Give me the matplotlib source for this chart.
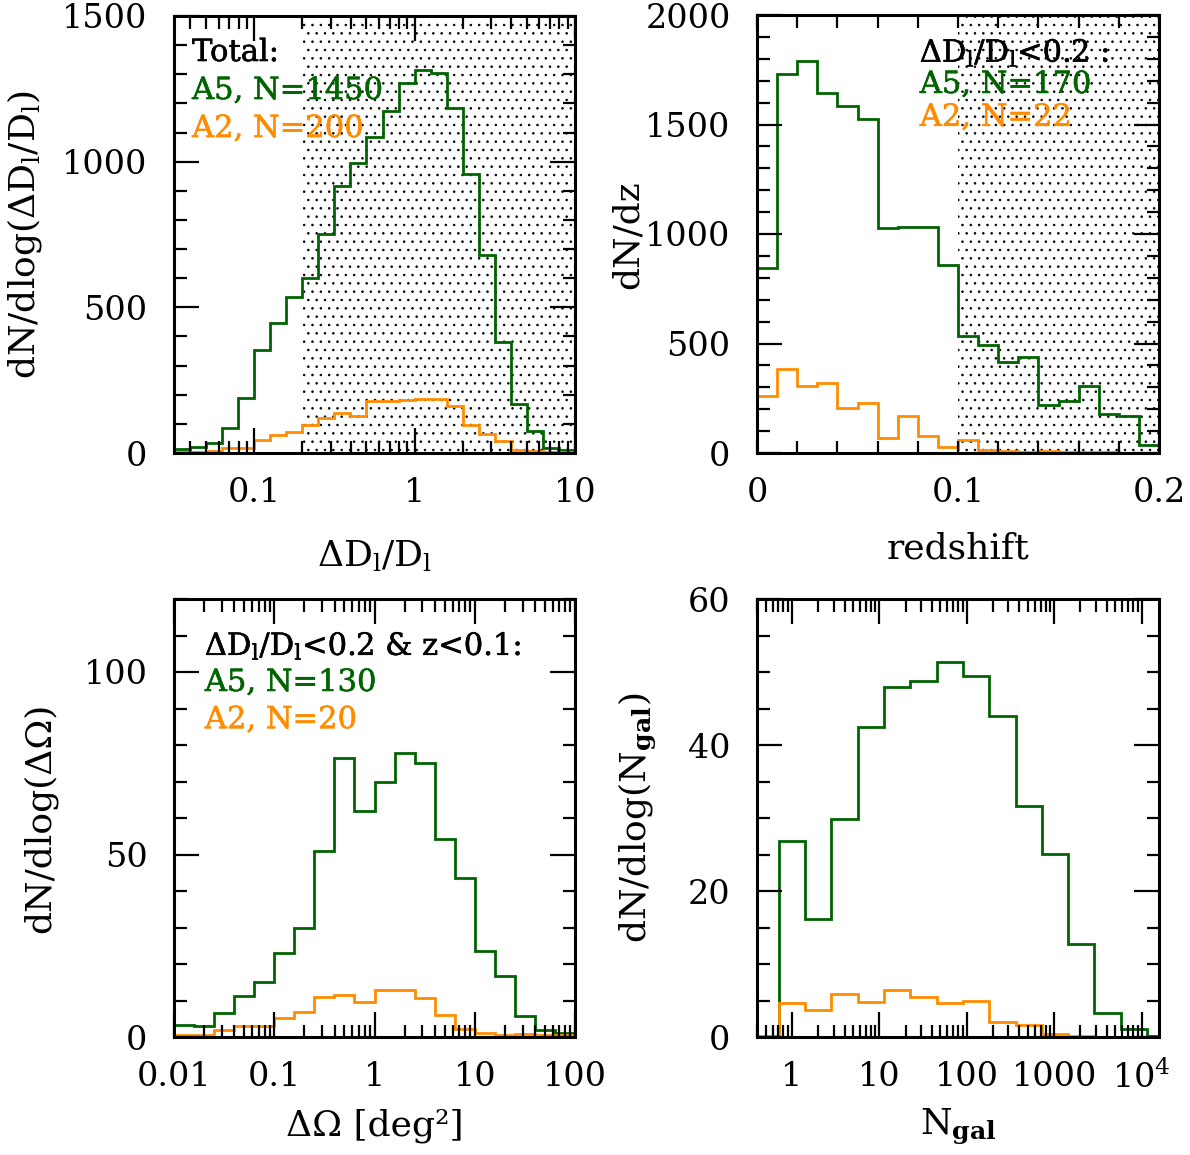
import numpy as np
import matplotlib
matplotlib.use('Agg')
import matplotlib.pyplot as plt
import matplotlib.patheffects as pe
from matplotlib.ticker import LogLocator, NullFormatter, MultipleLocator

plt.rcParams['font.family'] = ['DejaVu Serif']
plt.rcParams['mathtext.fontset'] = 'dejavuserif'
plt.rcParams['hatch.linewidth'] = 0.6

GREEN = '#006400'
ORANGE = '#ff8c00'
FS = 24      # tick labels
LFS = 26     # axis labels
NFS = 22     # annotations

# ---- panel 1 : distance error, 0.1 dex bins ----
dl_logedges = np.round(np.arange(-1.5, 1.05, 0.1), 2)
dl_a5 = [15, 20, 34, 86, 189, 354, 446, 537, 600, 751, 918, 995, 1083, 1174,
         1269, 1315, 1303, 1183, 957, 678, 380, 169, 77, 17, 11]
dl_a2 = [3, 3, 8, 17, 17, 46, 63, 72, 97, 120, 137, 128, 177, 180,
         183, 185, 186, 162, 97, 65, 40, 11, 6, 2, 2]
dl_cut = 0.2

# ---- panel 2 : redshift, 0.01 bins ----
z_edges = np.round(np.arange(0, 0.205, 0.01), 2)
z_a5 = [844, 1731, 1790, 1646, 1585, 1525, 1027, 1034, 1031, 859,
        532, 494, 414, 438, 221, 236, 307, 179, 167, 35]
z_a2 = [262, 383, 307, 319, 205, 228, 68, 167, 79, 26,
        61, 15, 8, 5, 8, 3, 5, 3, 0, 0]
z_cut = 0.1

# ---- panel 3 : sky area, 0.2 dex bins ----
om_logedges = np.round(np.arange(-2.0, 2.05, 0.2), 2)
om_a5 = [3.2, 3.0, 6.7, 11.2, 15.1, 23.1, 29.9, 51.0, 76.4, 61.9,
         69.8, 77.8, 75.0, 54.2, 43.5, 23.6, 16.7, 5.8, 1.8, 1.1]
om_a2 = [0.5, 0.5, 1.8, 3.0, 3.0, 5.2, 6.9, 11.0, 11.4, 9.6,
         12.8, 12.8, 10.8, 5.9, 2.3, 1.2, 0.6, 0.9, 0.6, 0.6]

# ---- panel 4 : number of galaxies, factor-2 bins ----
ng_log2edges = np.arange(-1.5, 15.0, 1.0)
ng_a5 = [0, 26.9, 16.1, 29.9, 42.5, 48.0, 48.8, 51.4, 49.5, 44.0,
         31.7, 25.1, 12.7, 3.3, 1.05, 0.2]
ng_a2 = [0.2, 4.7, 3.7, 5.9, 4.8, 6.4, 5.5, 4.7, 4.9, 2.1,
         1.6, 0.4, 0.1, 0.05, 0.05, 0.0]

W, H = 1190, 1155
fig = plt.figure(figsize=(W / 100, H / 100), dpi=100)


def px_axes(x0, y0, x1, y1):
    return fig.add_axes([x0 / W, 1 - y1 / H, (x1 - x0) / W, (y1 - y0) / H])


def style(ax):
    for s in ax.spines.values():
        s.set_linewidth(2.2)
    ax.tick_params(which='both', direction='in', top=True, right=True,
                   labelsize=FS, width=1.6)
    ax.tick_params(which='major', length=18)
    ax.tick_params(which='minor', length=9)
    ax.tick_params(axis='x', which='major', pad=17)
    ax.tick_params(axis='y', which='major', pad=19)


def shade(ax, x0, x1):
    ax.axvspan(x0, x1, facecolor='none', edgecolor='black', hatch='..',
               linewidth=0, zorder=0)


def notes(ax, x, ys, lines):
    # slightly heavier text, like the original annotations
    for y, (s, c) in zip(ys, lines):
        ax.text(x, y, s, color=c, fontsize=NFS, transform=ax.transAxes,
                ha='left', va='baseline',
                path_effects=[pe.withStroke(linewidth=0.4, foreground=c)])


def log_x(ax, ticks, labels):
    ax.set_xscale('log')
    ax.xaxis.set_minor_locator(LogLocator(base=10, subs=np.arange(2, 10),
                                          numticks=100))
    ax.xaxis.set_minor_formatter(NullFormatter())
    ax.set_xticks(ticks)
    ax.set_xticklabels(labels)


def ylab(ax, x, y, s):
    ax.text(x, y, s, fontsize=LFS, rotation=90, ha='center', va='center',
            transform=ax.transAxes)


def xlab(ax, y, s):
    ax.text(0.5, y, s, fontsize=LFS, ha='center', va='baseline',
            transform=ax.transAxes)


lw = 2.0
dl_sub = r'$_{\mathrm{l}}$'

# panel 1
ax1 = px_axes(174, 16, 575, 453)
ax1.stairs(dl_a5, 10 ** dl_logedges, color=GREEN, lw=lw)
ax1.stairs(dl_a2, 10 ** dl_logedges, color=ORANGE, lw=lw)
shade(ax1, dl_cut, 10)
ax1.set_ylim(0, 1500)
log_x(ax1, [0.1, 1, 10], ['0.1', '1', '10'])
ax1.set_xlim(10 ** -1.5, 10)
ax1.yaxis.set_major_locator(MultipleLocator(500))
ax1.yaxis.set_minor_locator(MultipleLocator(100))
style(ax1)
ylab(ax1, -0.372, 0.5, 'dN/dlog(ΔD' + dl_sub + '/D' + dl_sub + ')')
xlab(ax1, -0.259, 'ΔD' + dl_sub + '/D' + dl_sub)
notes(ax1, 0.045, [0.897, 0.810, 0.723],
      [('Total:', 'black'), ('A5, N=1450', GREEN), ('A2, N=200', ORANGE)])

# panel 2
ax2 = px_axes(757, 15, 1159, 453)
ax2.stairs(z_a5, z_edges, color=GREEN, lw=lw)
ax2.stairs(z_a2, z_edges, color=ORANGE, lw=lw)
shade(ax2, z_cut, 0.2)
ax2.set_xlim(0, 0.2)
ax2.set_ylim(0, 2000)
ax2.set_xticks([0, 0.1, 0.2])
ax2.set_xticklabels(['0', '0.1', '0.2'])
ax2.xaxis.set_minor_locator(MultipleLocator(0.02))
ax2.yaxis.set_major_locator(MultipleLocator(500))
ax2.yaxis.set_minor_locator(MultipleLocator(100))
style(ax2)
ax2.tick_params(axis='x', which='major', length=9)
ylab(ax2, -0.321, 0.498, 'dN/dz')
xlab(ax2, -0.242, 'redshift')
notes(ax2, 0.405, [0.893, 0.822, 0.747],
      [('ΔD' + dl_sub + '/D' + dl_sub + '<0.2 :', 'black'),
       ('A5, N=170', GREEN), ('A2, N=22', ORANGE)])

# panel 3
ax3 = px_axes(174, 599, 575, 1037)
ax3.stairs(om_a5, 10 ** om_logedges, color=GREEN, lw=lw)
ax3.stairs(om_a2, 10 ** om_logedges, color=ORANGE, lw=lw)
ax3.set_ylim(0, 120)
log_x(ax3, [0.01, 0.1, 1, 10, 100], ['0.01', '0.1', '1', '10', '100'])
ax3.set_xlim(0.01, 100)
ax3.yaxis.set_major_locator(MultipleLocator(50))
ax3.yaxis.set_minor_locator(MultipleLocator(10))
style(ax3)
ylab(ax3, -0.334, 0.5, 'dN/dlog(ΔΩ)')
xlab(ax3, -0.224, 'ΔΩ [deg²]')
notes(ax3, 0.077, [0.872, 0.790, 0.705],
      [('ΔD' + dl_sub + '/D' + dl_sub + '<0.2 & z<0.1:', 'black'),
       ('A5, N=130', GREEN), ('A2, N=20', ORANGE)])

# panel 4
ax4 = px_axes(757, 599, 1159, 1037)
ax4.stairs(ng_a5, 2.0 ** ng_log2edges, color=GREEN, lw=lw)
ax4.stairs(ng_a2, 2.0 ** ng_log2edges, color=ORANGE, lw=lw)
ax4.set_ylim(0, 60)
log_x(ax4, [1, 10, 100, 1000, 1e4], ['1', '10', '100', '1000', '10$^4$'])
ax4.set_xlim(10 ** -0.4, 10 ** 4.2)
ax4.yaxis.set_major_locator(MultipleLocator(20))
ax4.yaxis.set_minor_locator(MultipleLocator(5))
style(ax4)
gal = r'$_{\mathbf{gal}}$'
ylab(ax4, -0.299, 0.5, 'dN/dlog(N' + gal + ')')
xlab(ax4, -0.221, 'N' + gal)

fig.savefig('out.png', dpi=100)
